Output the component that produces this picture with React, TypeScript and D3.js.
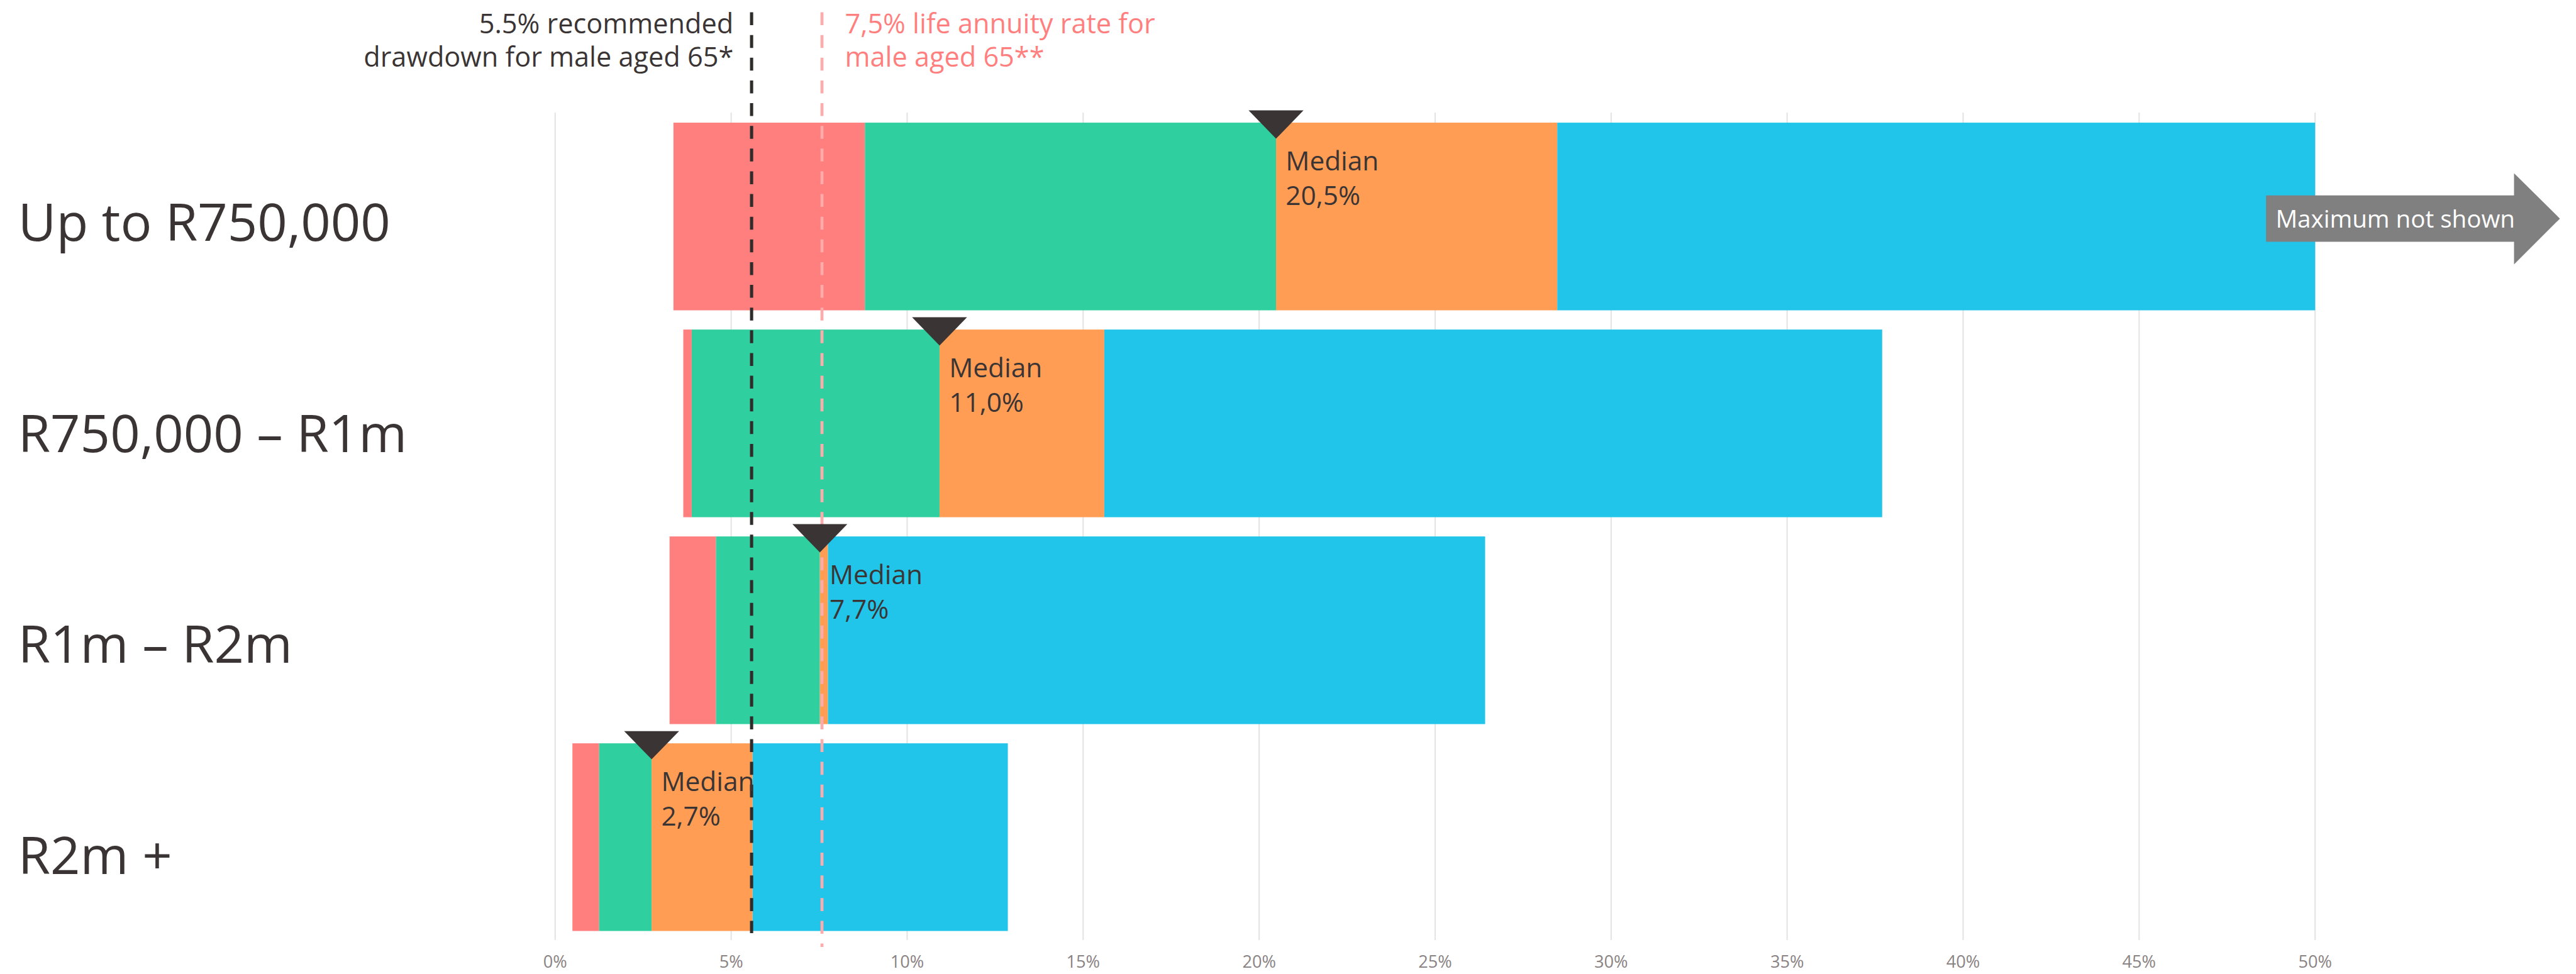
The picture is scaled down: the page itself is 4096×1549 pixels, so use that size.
import React from "react";
import * as d3 from "d3";

// ---- data ----
const categories = ["Up to R750,000", "R750,000 – R1m", "R1m – R2m", "R2m +"];
const minValues = [3.36, 3.64, 3.25, 0.49];
const lowerValues = [8.8, 3.88, 4.57, 1.25];
const medianValues = [20.48, 10.92, 7.52, 2.74];
const upperValues = [28.47, 15.6, 7.75, 5.61];
const maxValues = [50, 37.7, 26.42, 12.86];
const medianLabels = ["20,5%", "11,0%", "7,7%", "2,7%"];
const xTicks = [0, 5, 10, 15, 20, 25, 30, 35, 40, 45, 50];
const drawdownLine = 5.58;
const annuityLine = 7.58;
const segmentColors = ["#ff7f7f", "#30cf9f", "#ff9d55", "#22c5ea"];

const S = 0.848;
const W = 4096;
const H = 1549;
const f = (v: number) => v * S;

export default function App() {
  const x = d3.scaleLinear().domain([0, 50]).range([f(1041), f(4341)]);
  const y = d3
    .scaleBand<string>()
    .domain(categories)
    .range([f(212), f(1764)])
    .paddingInner(0.093)
    .paddingOuter(0.0465);
  const labelY = d3.scalePoint<string>().domain(categories).range([f(452), f(1639)]);

  const font = "'Open Sans', 'Noto Sans', sans-serif";
  const dark = "#3a3534";

  const rows = categories.map((c, i) => {
    const bounds = [minValues[i], lowerValues[i], medianValues[i], upperValues[i], maxValues[i]];
    return { c, i, bounds };
  });

  const bar0 = y(categories[0])! + y.bandwidth() / 2;

  return (
    <svg
      width={W}
      height={H}
      style={{ position: "fixed", left: 0, top: 0, background: "#fff" }}
      fontFamily={font}
    >
      {/* gridlines */}
      {xTicks.map((t) => (
        <line
          key={"g" + t}
          x1={x(t)}
          x2={x(t)}
          y1={f(211)}
          y2={f(1763)}
          stroke="#e4e4e4"
          strokeWidth={f(2.5)}
        />
      ))}
      {/* tick labels */}
      {xTicks.map((t) => (
        <text
          key={"t" + t}
          x={x(t)}
          y={f(1815)}
          textAnchor="middle"
          fontSize={f(32)}
          fill="#8a8383"
        >
          {t + "%"}
        </text>
      ))}
      {/* category labels */}
      {categories.map((c) => (
        <text key={"l" + c} x={f(34)} y={labelY(c)} fontSize={f(98)} fill={dark}>
          {c}
        </text>
      ))}
      {/* bars */}
      {rows.map((r) =>
        [0, 1, 2, 3].map((k) => (
          <rect
            key={r.c + k}
            x={x(r.bounds[k])}
            width={Math.max(0, x(r.bounds[k + 1]) - x(r.bounds[k]))}
            y={y(r.c)}
            height={y.bandwidth()}
            fill={segmentColors[k]}
          />
        ))
      )}
      {/* reference lines */}
      <line
        x1={x(annuityLine)}
        x2={x(annuityLine)}
        y1={f(23)}
        y2={f(1776)}
        stroke="#ffabab"
        strokeWidth={f(5.5)}
        strokeDasharray={`${f(24.3)} ${f(18.3)}`}
      />
      <line
        x1={x(drawdownLine)}
        x2={x(drawdownLine)}
        y1={f(23)}
        y2={f(1750)}
        stroke="#302c2c"
        strokeWidth={f(6)}
        strokeDasharray={`${f(24.3)} ${f(18.3)}`}
      />
      {/* annotations */}
      <text x={x(drawdownLine) - f(34)} textAnchor="end" fontSize={f(51)} fill={dark}>
        <tspan x={x(drawdownLine) - f(34)} y={f(62)}>5.5% recommended</tspan>
        <tspan x={x(drawdownLine) - f(34)} y={f(125)}>drawdown for male aged 65*</tspan>
      </text>
      <text x={x(annuityLine) + f(43)} fontSize={f(51)} fill="#ff7f7f">
        <tspan x={x(annuityLine) + f(43)} y={f(62)}>7,5% life annuity rate for</tspan>
        <tspan x={x(annuityLine) + f(43)} y={f(125)}>male aged 65**</tspan>
      </text>
      {/* median markers */}
      {rows.map((r) => {
        const mx = x(medianValues[r.i]);
        const top = y(r.c)!;
        const tri = d3.path();
        tri.moveTo(mx - f(51.5), top - f(23));
        tri.lineTo(mx + f(51.5), top - f(23));
        tri.lineTo(mx, top + f(30));
        tri.closePath();
        return (
          <g key={"m" + r.c}>
            <path d={tri.toString()} fill={dark} />
            <text x={mx + f(18)} fontSize={f(50)} fill={dark}>
              <tspan x={mx + f(18)} y={top + f(90)}>Median</tspan>
              <tspan x={mx + f(18)} y={top + f(154)}>{medianLabels[r.i]}</tspan>
            </text>
          </g>
        );
      })}
      {/* maximum not shown arrow */}
      {(() => {
        const x0 = x(50) - f(92);
        const x1 = x0 + f(465);
        const x2 = x1 + f(86);
        const cy = bar0 + f(4);
        const p = d3.path();
        p.moveTo(x0, cy - f(43.5));
        p.lineTo(x1, cy - f(43.5));
        p.lineTo(x1, cy - f(85));
        p.lineTo(x2, cy);
        p.lineTo(x1, cy + f(86));
        p.lineTo(x1, cy + f(43.5));
        p.lineTo(x0, cy + f(43.5));
        p.closePath();
        return (
          <g>
            <path d={p.toString()} fill="#808080" />
            <text x={x0 + f(18)} y={cy + f(17)} fontSize={f(45.5)} fill="#fff">
              Maximum not shown
            </text>
          </g>
        );
      })()}
    </svg>
  );
}
